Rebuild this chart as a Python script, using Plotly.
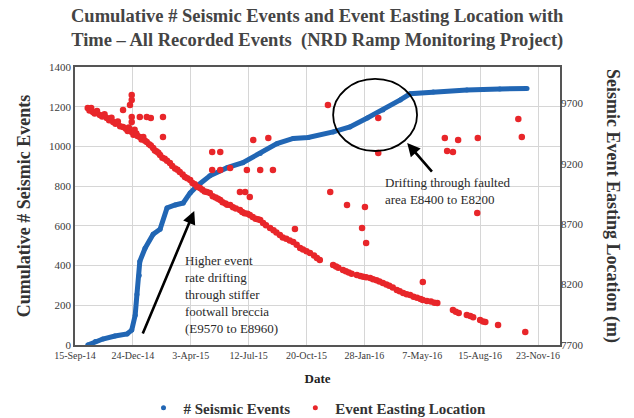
import pandas as pd
import plotly.graph_objects as go

# ---- data (dates as Excel serial numbers) ----
blue_serial = [41919, 41932, 41945, 41966, 41987, 41995, 42001, 42004, 42008, 42009,
               42018, 42032, 42044, 42056, 42070, 42084, 42096, 42108, 42130, 42160,
               42187, 42217, 42246, 42274, 42300, 42343, 42372, 42402, 42429, 42459,
               42476, 42516, 42574, 42631, 42678]
blue_count = [0, 18, 30, 45, 56, 75, 150, 254, 350, 421,
              487, 558, 583, 690, 705, 715, 766, 801, 852, 893,
              918, 964, 1014, 1040, 1045, 1073, 1098, 1143, 1183, 1234,
              1265, 1274, 1284, 1289, 1292]

red_serial = [
    # main trend
    41919, 41928, 41940, 41952, 41963, 41980, 41995, 42009, 42021, 42032,
    42044, 42061, 42078, 42096, 42113, 42130, 42148, 42165, 42182, 42199,
    42217, 42234, 42251, 42274, 42286, 42303, 42320, 42343, 42360, 42384,
    42407, 42429, 42453, 42476, 42498, 42523, 42550, 42574, 42597, 42628, 42675,
    # band thickness
    41922, 41925, 41931, 41935, 41944, 41948, 41956, 41960, 41967, 41971,
    41975, 41985, 41988, 41990, 41998, 42000, 42003, 42005, 42012, 42015,
    42018, 42025, 42028, 42035, 42038, 42041, 42048, 42052, 42056, 42065,
    42070, 42074, 42083, 42087, 42091, 42100, 42104, 42108, 42117, 42121,
    42125, 42135, 42140, 42144, 42152, 42157, 42160, 42170, 42175, 42186,
    42190, 42195, 42204, 42209, 42213, 42222, 42227, 42240, 42245, 42256,
    42262, 42268, 42280, 42291, 42297, 42310, 42315,
    42348, 42352, 42365, 42370, 42375, 42390, 42395, 42400, 42412, 42418,
    42423, 42435, 42440, 42446, 42458, 42464, 42470, 42482, 42488, 42494,
    42505, 42512, 42518, 42555, 42560, 42580, 42585, 42602, 42606,
    # outliers
    41995, 41995, 41992, 41980, 41995, 41995, 42009, 42021, 42028, 42049,
    42049, 42134, 42148, 42205, 42231, 42134, 42148, 42165, 42194, 42217,
    42239, 42182, 42191, 42199, 42277, 42334, 42421, 42421, 42536, 42559,
    42593, 42540, 42550, 42663, 42669, 42338, 42367, 42398, 42393, 42400,
    42592, 42498,
]
red_easting = [
    9661, 9628, 9603, 9578, 9545, 9504, 9462, 9421, 9379, 9330,
    9272, 9206, 9131, 9065, 8999, 8958, 8900, 8858, 8817, 8776,
    8734, 8668, 8610, 8552, 8502, 8461, 8403, 8362, 8320, 8279,
    8254, 8213, 8155, 8114, 8072, 8047, 7990, 7948, 7907, 7865, 7808,
    9640, 9660, 9615, 9635, 9590, 9610, 9560, 9580, 9530, 9550,
    9510, 9490, 9470, 9500, 9440, 9480, 9450, 9430, 9400, 9420,
    9390, 9360, 9350, 9310, 9300, 9290, 9250, 9240, 9225, 9180,
    9160, 9150, 9110, 9090, 9080, 9040, 9030, 9010, 8985, 8970,
    8965, 8930, 8920, 8910, 8880, 8870, 8860, 8840, 8830, 8800,
    8790, 8785, 8760, 8745, 8740, 8710, 8690, 8650, 8630, 8590,
    8580, 8565, 8530, 8490, 8475, 8440, 8420,
    8350, 8340, 8310, 8300, 8290, 8270, 8265, 8260, 8245, 8235,
    8225, 8200, 8190, 8175, 8145, 8130, 8120, 8100, 8090, 8080,
    8065, 8060, 8050, 7975, 7965, 7940, 7930, 7895, 7890,
    9768, 9727, 9686, 9644, 9586, 9545, 9586, 9586, 9578, 9586,
    9421, 9297, 9297, 9396, 9412, 9148, 9148, 9164, 9148, 9148,
    9148, 8966, 8966, 8924, 8660, 9686, 9578, 9288, 9412, 9396,
    9412, 9305, 9297, 9570, 9421, 8966, 8858, 8842, 8668, 8544,
    8792, 8221,
]

x_tick_dates = ["2014-09-15", "2014-12-24", "2015-04-03", "2015-07-12", "2015-10-20",
                "2016-01-28", "2016-05-07", "2016-08-15", "2016-11-23"]
x_tick_labels = ["15-Sep-14", "24-Dec-14", "3-Apr-15", "12-Jul-15", "20-Oct-15",
                 "28-Jan-16", "7-May-16", "15-Aug-16", "23-Nov-16"]
right_ticks = [7700, 8200, 8700, 9200, 9700]


def to_date(s):
    return pd.to_datetime(pd.Series(s), unit="D", origin="1899-12-30")


SERIF = "Liberation Serif"
TXT = "#3a3a3a"
BLUE = "#2166b4"
RED = "#e8262a"

fig = go.Figure()
fig.add_trace(go.Scatter(
    x=to_date(blue_serial), y=blue_count, mode="lines+markers", name="# Seismic Events",
    line=dict(color=BLUE, width=5), marker=dict(color=BLUE, size=5), yaxis="y",
    showlegend=False))
fig.add_trace(go.Scatter(
    x=to_date(red_serial), y=red_easting, mode="markers", name="Event Easting Location",
    marker=dict(color=RED, size=6.5), yaxis="y2", showlegend=False))
# legend entries (small dots as in the reference)
fig.add_trace(go.Scatter(x=[None], y=[None], mode="markers", name="<b># Seismic Events</b>",
                         marker=dict(color=BLUE, size=5)))
fig.add_trace(go.Scatter(x=[None], y=[None], mode="markers", name="<b>Event Easting Location</b>",
                         marker=dict(color=RED, size=5)))

# ellipse around faulted area
fig.add_shape(type="circle", xref="x", yref="y",
              x0="2015-12-05", x1="2016-04-28", y0=977, y1=1340,
              line=dict(color="black", width=1.8))

# arrows
fig.add_annotation(x="2015-04-09", y=675, ax="2015-01-09", ay=50, xref="x", yref="y",
                   axref="x", ayref="y", text="", showarrow=True, arrowhead=2,
                   arrowsize=1, arrowwidth=2.6, arrowcolor="black")
fig.add_annotation(x="2016-04-11", y=1017, ax="2016-05-26", ay=866, xref="x", yref="y",
                   axref="x", ayref="y", text="", showarrow=True, arrowhead=2,
                   arrowsize=1, arrowwidth=2.6, arrowcolor="black")

fig.add_annotation(x=0.223, y=0.338, xref="paper", yref="paper", xanchor="left", yanchor="top",
                   align="left", showarrow=False,
                   text="Higher event<br>rate drifting<br>through stiffer<br>footwall breccia<br>(E9570 to E8960)",
                   font=dict(family=SERIF, size=13, color="#2a2a2a"))
fig.add_annotation(x=0.636, y=0.618, xref="paper", yref="paper", xanchor="left", yanchor="top",
                   align="left", showarrow=False,
                   text="Drifting through faulted<br>area E8400 to E8200",
                   font=dict(family=SERIF, size=13, color="#2a2a2a"))

# title
fig.add_annotation(x=0.5, y=1.225, xref="paper", yref="paper", xanchor="center", yanchor="top",
                   showarrow=False, align="center",
                   text="<b>Cumulative # Seismic Events and Event Easting Location with<br>"
                        "Time – All Recorded Events  (NRD Ramp Monitoring Project)</b>",
                   font=dict(family=SERIF, size=18.5, color="#444"))

# right axis title (reads top-to-bottom)
fig.add_annotation(x=1.135, y=0.5, xref="paper", yref="paper", showarrow=False,
                   text="<b>Seismic Event Easting Location (m)</b>", textangle=90,
                   font=dict(family=SERIF, size=18, color="#333"))

fig.update_layout(
    width=634, height=418,
    margin=dict(l=75, r=74, t=67, b=73, autoexpand=False),
    paper_bgcolor="white", plot_bgcolor="white",
    xaxis=dict(range=[to_date([41897])[0], to_date([42735])[0]],
               tickvals=x_tick_dates, ticktext=x_tick_labels,
               showgrid=True, gridcolor="#d6d6d6", gridwidth=1,
               showline=True, linecolor="#555", linewidth=1.5, mirror=True,
               ticks="", tickfont=dict(family=SERIF, size=10, color=TXT),
               automargin=False,
               title=dict(text="<b>Date</b>", font=dict(family=SERIF, size=13, color="#222"),
                          standoff=14)),
    yaxis=dict(range=[0, 1400], dtick=200, showgrid=True, gridcolor="#d6d6d6",
               showline=True, linecolor="#555", linewidth=1.5, mirror=True,
               zeroline=False, ticks="", automargin=False,
               tickfont=dict(family=SERIF, size=11, color=TXT),
               title=dict(text="<b>Cumulative # Seismic Events</b>",
                          font=dict(family=SERIF, size=18, color="#333"), standoff=14)),
    yaxis2=dict(range=[7700, 10000], tickvals=right_ticks, overlaying="y", side="right",
                showgrid=False, zeroline=False, ticks="", automargin=False,
                tickfont=dict(family=SERIF, size=11, color=TXT)),
    legend=dict(orientation="h", x=0.5, xanchor="center", xref="paper",
                y=0.024, yanchor="middle", yref="container",
                font=dict(family=SERIF, size=15, color="#333"),
                itemwidth=30, tracegroupgap=10),
    showlegend=True,
)

fig.write_html("out.html")
